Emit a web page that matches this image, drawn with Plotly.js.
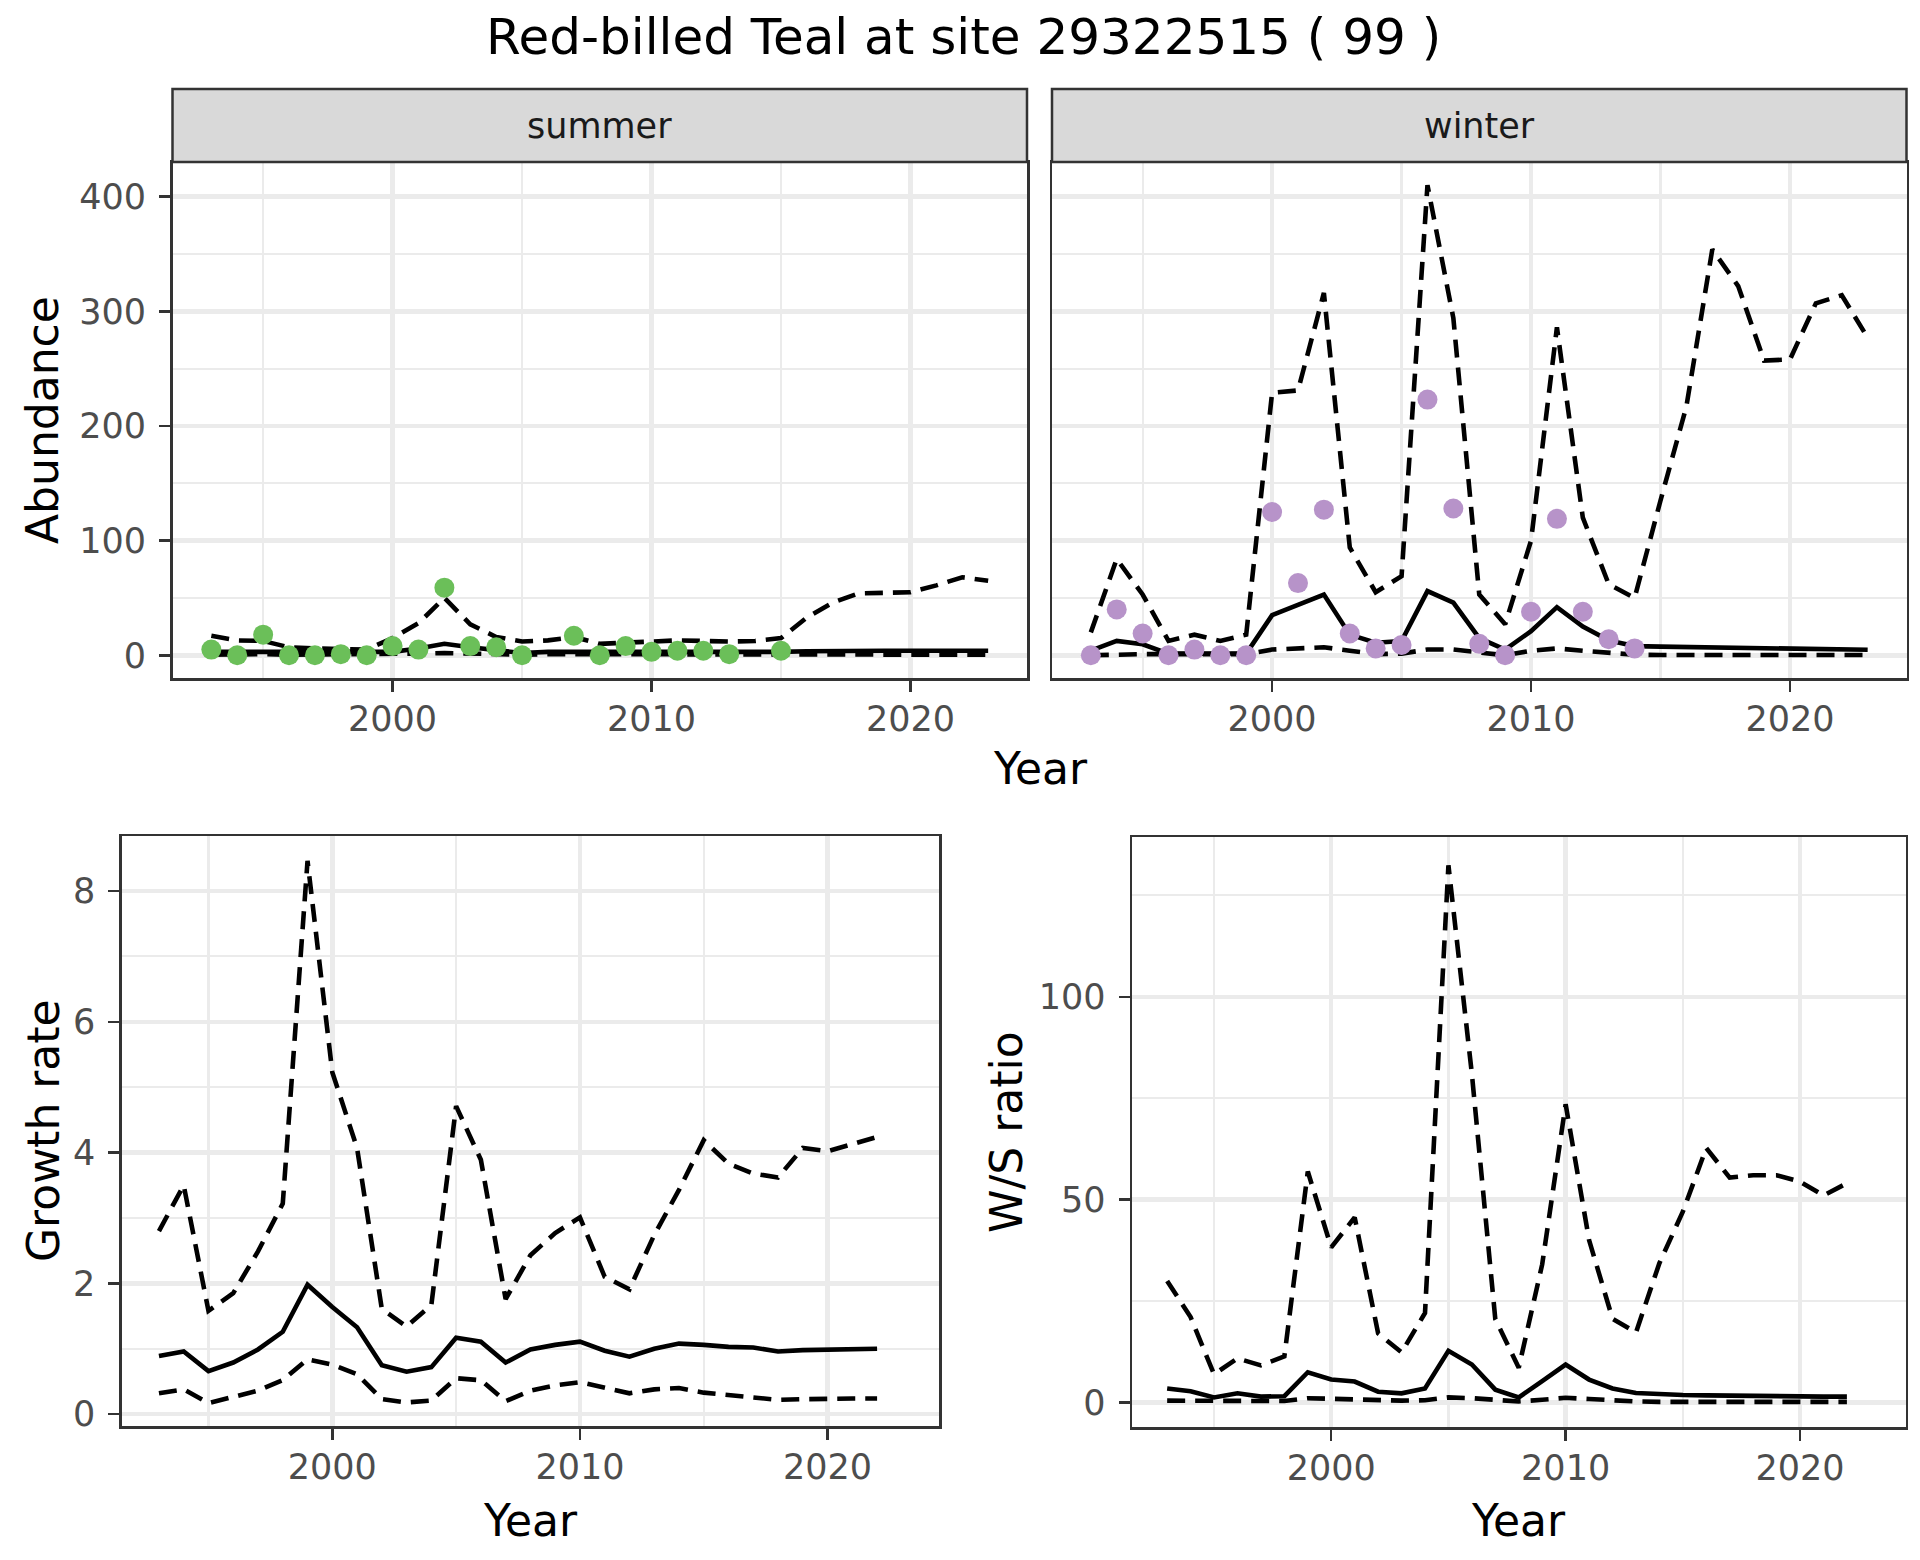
<!DOCTYPE html>
<html>
<head>
<meta charset="utf-8">
<script src="https://cdn.plot.ly/plotly-3.0.1.min.js"></script>
<style>
  html, body { margin: 0; padding: 0; background: #ffffff; }
  #chart { width: 1920px; height: 1560px; }
</style>
</head>
<body>
<div id="chart"></div>
<script>
// ---------------- data ----------------
const chartTitle = "Red-billed Teal at site 29322515 ( 99 )";
const facetLabels = ["summer", "winter"];

const yearsTop = [1993,1994,1995,1996,1997,1998,1999,2000,2001,2002,2003,2004,2005,2006,2007,2008,2009,2010,2011,2012,2013,2014,2015,2016,2017,2018,2019,2020,2021,2022,2023];
const yearsBottom = [1993,1994,1995,1996,1997,1998,1999,2000,2001,2002,2003,2004,2005,2006,2007,2008,2009,2010,2011,2012,2013,2014,2015,2016,2017,2018,2019,2020,2021,2022];

// observed counts
const summerCountYears = [1993,1994,1995,1996,1997,1998,1999,2000,2001,2002,2003,2004,2005,2007,2008,2009,2010,2011,2012,2013,2015];
const summerCounts     = [5,0,18,0,0,1,0,8,5,59,8,7,0,17,0,8,3,4,4,1,4];
const winterCountYears = [1993,1994,1995,1996,1997,1998,1999,2000,2001,2002,2003,2004,2005,2006,2007,2008,2009,2010,2011,2012,2013,2014];
const winterCounts     = [0,40,19,0,5,0,0,125,63,127,19,6,9,223,128,10,0,38,119,38,14,6];

// modelled abundance (mean and interval)
const summerMean  = [3,3,3,2,2,2,2,3,6,10,7,4,2,3,3,2,2,3,3,3,3,3,3,3.5,4,4,4,4,4,4,4];
const summerUpper = [17,13,12.5,7,6,6,5,15,28,50,27,16,12,13,16,10,11,12,13,12.5,12,12.5,15,33,46,54,55,55,61,68,65];
const summerLower = [0.5,1,1,0.5,0.5,0.5,0.5,1,1.5,2,1.5,1,0.5,1,1,0.5,0.5,0.5,0.5,0.5,0.5,0.5,0.5,0.5,0.5,0.5,0.5,0.5,0.5,0.5,0.5];

const winterMean  = [4,12.5,9.6,1.5,1.5,1,1.5,35,44,53,18,11,12.5,56,46,15,5,21,42,25,13,8,7.6,7.2,6.8,6.4,6.0,5.6,5.3,5.0,4.8];
const winterUpper = [20,84,53,12.5,18,12.5,18,229,231,316,94,55,69,410,294,53,27,100,286,120,62,50,135,217,354,322,257,258,307,314,277];
const winterLower = [0,1,1,1,1,1,1,5,6,7,4,1,1.5,5,5,2,0,4,6,4,2,0.5,0.3,0.2,0.2,0.2,0.2,0.2,0.2,0.2,0.2];

// growth rate
const growthMean  = [0.89,0.96,0.66,0.79,0.99,1.26,1.98,1.64,1.33,0.75,0.65,0.72,1.17,1.11,0.79,0.99,1.06,1.11,0.97,0.88,1.0,1.08,1.06,1.03,1.02,0.96,0.98,0.99,1.0,1.0];
const growthUpper = [2.80,3.50,1.58,1.85,2.49,3.22,8.46,5.23,4.07,1.61,1.34,1.67,4.71,3.89,1.76,2.43,2.77,3.01,2.10,1.91,2.74,3.43,4.19,3.83,3.68,3.62,4.07,4.02,4.13,4.24];
const growthLower = [0.32,0.38,0.17,0.26,0.36,0.52,0.84,0.76,0.61,0.23,0.18,0.21,0.55,0.52,0.20,0.36,0.44,0.49,0.40,0.32,0.38,0.40,0.33,0.29,0.26,0.22,0.23,0.24,0.24,0.24];

// winter / summer ratio
const ratioMean  = [3.4,2.7,1.2,2.2,1.4,1.5,7.4,5.6,5.1,2.6,2.2,3.4,12.7,9.3,3.1,1.2,5.2,9.3,5.6,3.4,2.3,2.0,1.8,1.7,1.6,1.5,1.5,1.4,1.4,1.4];
const ratioUpper = [29.9,21,6.9,10.8,9.1,11.3,56.9,38.2,45.6,17,12.3,22,132.4,81,20.5,8.5,34,73.5,40,20.6,17.2,34.3,47,62.7,55.4,56,56,54.4,51,54];
const ratioLower = [0.4,0.4,0.2,0.3,0.3,0.3,1.0,0.8,0.6,0.4,0.4,0.5,1.2,1.0,0.6,0.2,0.6,1.1,0.8,0.4,0.2,0.1,0.1,0.1,0.1,0.1,0.1,0.1,0.1,0.1];

// tick labels
const yearTicks = [2000, 2010, 2020];
const abundanceTicks = [0, 100, 200, 300, 400];
const growthTicks = [0, 2, 4, 6, 8];
const ratioTicks = [0, 50, 100];

// ---------------- styling ----------------
const W = 1920, H = 1560;
const FONT = "DejaVu Sans";
const px = v => v / W;
const py = v => 1 - v / H;

const summerColor = "#6BBF59";
const winterColor = "#B793C9";
const LINE_W = 4.6;
const DASH = "18px,10px";

function lineTrace(x, y, xa, ya, dashed) {
  return {
    x: x, y: y, xaxis: xa, yaxis: ya, type: "scatter", mode: "lines",
    line: { color: "#000000", width: LINE_W, dash: dashed ? DASH : "solid" },
    hoverinfo: "skip", showlegend: false
  };
}
function pointTrace(x, y, xa, ya, color) {
  return {
    x: x, y: y, xaxis: xa, yaxis: ya, type: "scatter", mode: "markers",
    marker: { color: color, size: 20, line: { width: 0 } },
    hoverinfo: "skip", showlegend: false
  };
}

const traces = [
  lineTrace(yearsTop, summerUpper, "x", "y", true),
  lineTrace(yearsTop, summerLower, "x", "y", true),
  lineTrace(yearsTop, summerMean, "x", "y", false),
  pointTrace(summerCountYears, summerCounts, "x", "y", summerColor),

  lineTrace(yearsTop, winterUpper, "x2", "y2", true),
  lineTrace(yearsTop, winterLower, "x2", "y2", true),
  lineTrace(yearsTop, winterMean, "x2", "y2", false),
  pointTrace(winterCountYears, winterCounts, "x2", "y2", winterColor),

  lineTrace(yearsBottom, growthUpper, "x3", "y3", true),
  lineTrace(yearsBottom, growthLower, "x3", "y3", true),
  lineTrace(yearsBottom, growthMean, "x3", "y3", false),

  lineTrace(yearsBottom, ratioUpper, "x4", "y4", true),
  lineTrace(yearsBottom, ratioLower, "x4", "y4", true),
  lineTrace(yearsBottom, ratioMean, "x4", "y4", false)
];

const GRID = "#EBEBEB";
const BORDER = "#333333";
const tickFont = { family: FONT, size: 35, color: "#4D4D4D" };

function xAxis(domain, anchor) {
  return {
    domain: domain, anchor: anchor, range: [1991.5, 2024.5],
    tickmode: "array", tickvals: yearTicks, ticktext: yearTicks.map(String),
    ticks: "outside", ticklen: 11, tickwidth: 2.5, tickcolor: BORDER,
    tickfont: tickFont, ticklabelstandoff: -3,
    showgrid: true, gridcolor: GRID, gridwidth: 4.5,
    minor: { tick0: 1995, dtick: 10, showgrid: true, gridcolor: GRID, gridwidth: 2.2, ticks: "" },
    zeroline: false, showline: true, mirror: true, linecolor: BORDER, linewidth: 2.5,
    fixedrange: true
  };
}
function yAxis(domain, anchor, range, ticks, minorStart, minorStep, showLabels) {
  return {
    domain: domain, anchor: anchor, range: range,
    tickmode: "array", tickvals: ticks, ticktext: ticks.map(String),
    ticks: showLabels ? "outside" : "", ticklen: 11, tickwidth: 2.5, tickcolor: BORDER,
    showticklabels: showLabels, tickfont: tickFont, ticklabelstandoff: 6,
    showgrid: true, gridcolor: GRID, gridwidth: 4.5,
    minor: { tick0: minorStart, dtick: minorStep, showgrid: true, gridcolor: GRID, gridwidth: 2.2, ticks: "" },
    zeroline: false, showline: true, mirror: true, linecolor: BORDER, linewidth: 2.5,
    fixedrange: true
  };
}

const topY = [py(678), py(162)];
const abRange = [-19.8, 430.2];

const layout = {
  width: W, height: H,
  margin: { l: 0, r: 0, t: 0, b: 0, pad: 0 },
  paper_bgcolor: "#ffffff", plot_bgcolor: "#ffffff",
  showlegend: false,
  font: { family: FONT, color: "#000000" },

  xaxis:  xAxis([px(172.5), px(1027)], "y"),
  yaxis:  yAxis(topY, "x", abRange, abundanceTicks, 50, 100, true),
  xaxis2: xAxis([px(1052), px(1906.5)], "y2"),
  yaxis2: yAxis(topY, "x2", abRange, abundanceTicks, 50, 100, false),
  xaxis3: xAxis([px(121.8), px(939)], "y3"),
  yaxis3: yAxis([py(1426), py(836)], "x3", [-0.18, 8.84], growthTicks, 1, 2, true),
  xaxis4: xAxis([px(1132), px(1905.5)], "y4"),
  yaxis4: yAxis([py(1427), py(837)], "x4", [-6.1, 139.4], ratioTicks, 25, 50, true),

  shapes: [
    { type: "rect", xref: "paper", yref: "paper", x0: px(172.5), x1: px(1027), y0: py(162), y1: py(89),
      fillcolor: "#D9D9D9", line: { color: BORDER, width: 2.5 }, layer: "above" },
    { type: "rect", xref: "paper", yref: "paper", x0: px(1052), x1: px(1906.5), y0: py(162), y1: py(89),
      fillcolor: "#D9D9D9", line: { color: BORDER, width: 2.5 }, layer: "above" }
  ],

  annotations: [
    { text: chartTitle, xref: "paper", yref: "paper", x: px(963), y: py(37),
      xanchor: "center", yanchor: "middle", showarrow: false,
      font: { family: FONT, size: 50, color: "#000000" } },
    { text: facetLabels[0], xref: "paper", yref: "paper", x: px((172.5 + 1027) / 2), y: py(125.5),
      xanchor: "center", yanchor: "middle", showarrow: false,
      font: { family: FONT, size: 35, color: "#1A1A1A" } },
    { text: facetLabels[1], xref: "paper", yref: "paper", x: px((1052 + 1906.5) / 2), y: py(125.5),
      xanchor: "center", yanchor: "middle", showarrow: false,
      font: { family: FONT, size: 35, color: "#1A1A1A" } },
    { text: "Year", xref: "paper", yref: "paper", x: px(1040), y: py(768),
      xanchor: "center", yanchor: "middle", showarrow: false,
      font: { family: FONT, size: 44, color: "#000000" } },
    { text: "Year", xref: "paper", yref: "paper", x: px(530.4), y: py(1520),
      xanchor: "center", yanchor: "middle", showarrow: false,
      font: { family: FONT, size: 44, color: "#000000" } },
    { text: "Year", xref: "paper", yref: "paper", x: px(1518.75), y: py(1520),
      xanchor: "center", yanchor: "middle", showarrow: false,
      font: { family: FONT, size: 44, color: "#000000" } },
    { text: "Abundance", xref: "paper", yref: "paper", x: px(43), y: py(420), textangle: -90,
      xanchor: "center", yanchor: "middle", showarrow: false,
      font: { family: FONT, size: 44, color: "#000000" } },
    { text: "Growth rate", xref: "paper", yref: "paper", x: px(43), y: py(1131), textangle: -90,
      xanchor: "center", yanchor: "middle", showarrow: false,
      font: { family: FONT, size: 44, color: "#000000" } },
    { text: "W/S ratio", xref: "paper", yref: "paper", x: px(1006), y: py(1132), textangle: -90,
      xanchor: "center", yanchor: "middle", showarrow: false,
      font: { family: FONT, size: 44, color: "#000000" } }
  ]
};

Plotly.newPlot("chart", traces, layout, { staticPlot: true, displayModeBar: false });
</script>
</body>
</html>
